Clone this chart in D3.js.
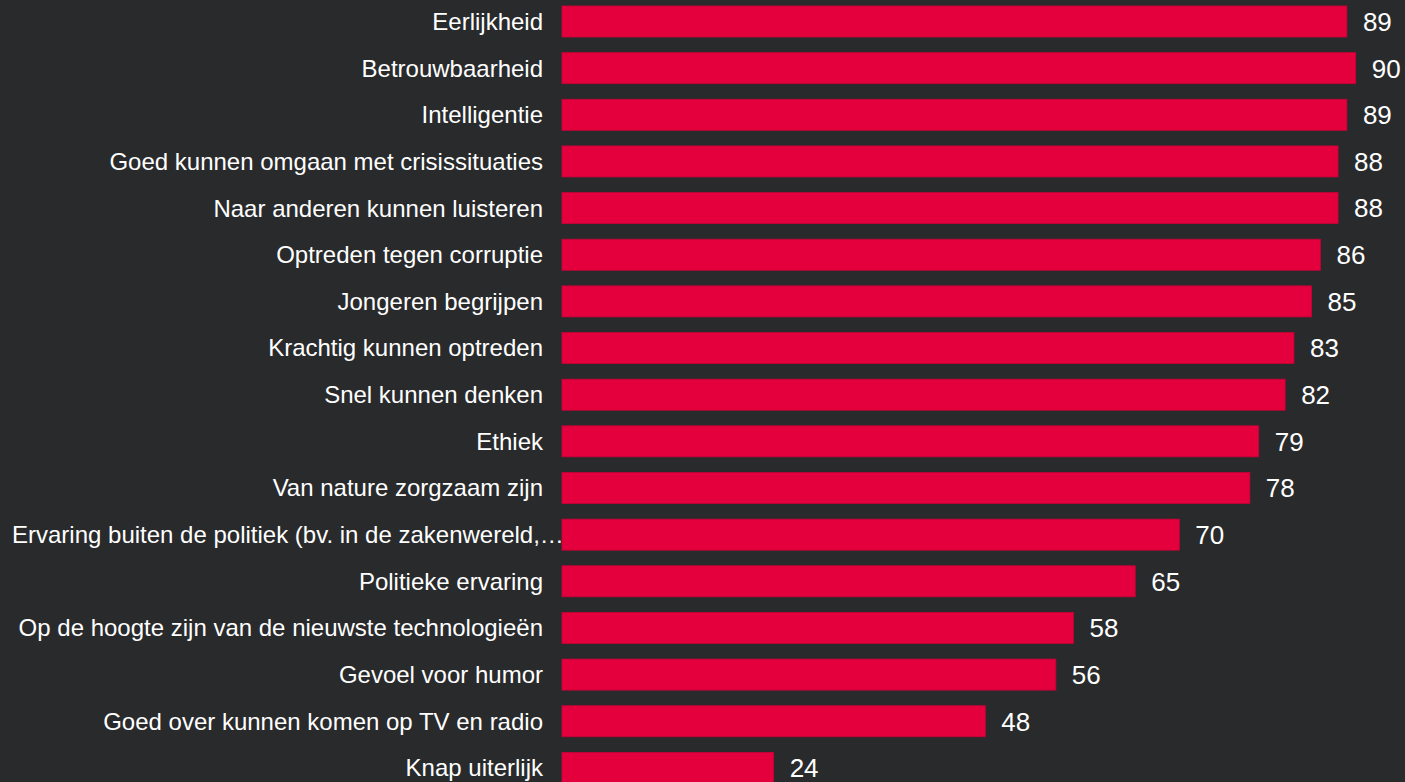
<!DOCTYPE html>
<html lang="nl">
    <head>
        <meta charset="utf-8">
        <title>Eigenschappen</title>
        <script src="https://d3js.org/d3.v7.min.js"></script>
        <style type="text/css">
                html, body {
                    margin: 0;
                    padding: 0;
                    background: #292a2c;
                    overflow: hidden;
                }
                .label {
                    font-family: "Liberation Sans", Arial, sans-serif;
                    font-size: 24px;
                    fill: #ffffff;
                }
                .value {
                    font-family: "Liberation Sans", Arial, sans-serif;
                    font-size: 26px;
                    fill: #ffffff;
                }
         </style>
    </head>
    <body>
        <script type="text/javascript">
        var categories = [
            "Eerlijkheid",
            "Betrouwbaarheid",
            "Intelligentie",
            "Goed kunnen omgaan met crisissituaties",
            "Naar anderen kunnen luisteren",
            "Optreden tegen corruptie",
            "Jongeren begrijpen",
            "Krachtig kunnen optreden",
            "Snel kunnen denken",
            "Ethiek",
            "Van nature zorgzaam zijn",
            "Ervaring buiten de politiek (bv. in de zakenwereld,\u2026",
            "Politieke ervaring",
            "Op de hoogte zijn van de nieuwste technologieën",
            "Gevoel voor humor",
            "Goed over kunnen komen op TV en radio",
            "Knap uiterlijk"
        ];
        var values = [89, 90, 89, 88, 88, 86, 85, 83, 82, 79, 78, 70, 65, 58, 56, 48, 24];

        var w = 1405;
        var h = 782;
        var barLeft = 562;

        var svg = d3.select("body")
                .append("svg")
                .attr("width", w)
                .attr("height", h);

        svg.append("rect")
                .attr("width", w)
                .attr("height", h)
                .attr("fill", "#292a2c");

        var x = d3.scaleLinear()
                .domain([0, 90])
                .range([barLeft, 1355.7]);

        var step = 46.65;
        var y = d3.scaleBand()
                .domain(categories)
                .range([21.5 - step / 2, 21.5 - step / 2 + step * categories.length])
                .paddingInner(0.335)
                .paddingOuter(0.1675);

        var rows = svg.selectAll("g.row")
                .data(categories)
                .enter()
                .append("g")
                .attr("class", "row");

        rows.append("rect")
                .attr("x", x(0))
                .attr("y", function(d) { return y(d); })
                .attr("width", function(d, i) { return x(values[i]) - x(0); })
                .attr("height", y.bandwidth())
                .attr("fill", "#e4003c")
                .attr("stroke", "#c8003a")
                .attr("stroke-width", 0.8);

        // category labels, right aligned next to the bars
        rows.append("text")
                .attr("class", "label")
                .attr("x", barLeft - 19)
                .attr("y", function(d) { return y(d) + y.bandwidth() / 2; })
                .attr("dy", "0.35em")
                .attr("text-anchor", "end")
                .text(function(d) { return d; })
                .each(function() {
                    // too long labels get left aligned, like the original
                    var len = this.getComputedTextLength();
                    if (len > barLeft - 19 - 12) {
                        d3.select(this).attr("text-anchor", "start").attr("x", 12);
                    }
                });

        rows.append("text")
                .attr("class", "value")
                .attr("x", function(d, i) { return x(values[i]) + 16; })
                .attr("y", function(d) { return y(d) + y.bandwidth() / 2; })
                .attr("dy", "0.36em")
                .text(function(d, i) { return values[i]; });
        </script>
    </body>
</html>
